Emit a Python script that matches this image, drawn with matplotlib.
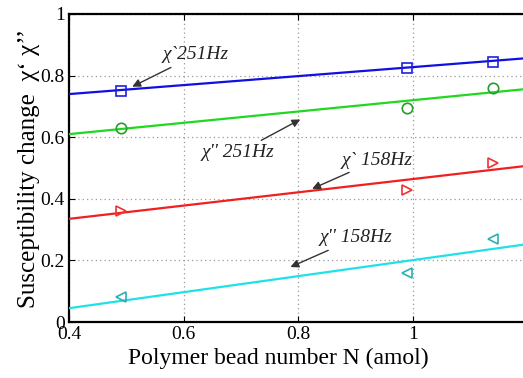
import matplotlib
matplotlib.use("Agg")
import matplotlib.pyplot as plt

# Dados ###############################################################################

n_beads = [0.49, 0.99, 1.14]
chi1_251 = [0.75, 0.825, 0.845]
chi2_251 = [0.63, 0.695, 0.76]
chi1_158 = [0.36, 0.43, 0.515]
chi2_158 = [0.08, 0.16, 0.27]

# retas ajustadas
x_fit = [0.4, 1.25]
fit_chi1_251 = [0.74, 0.864]
fit_chi2_251 = [0.61, 0.766]
fit_chi1_158 = [0.335, 0.518]
fit_chi2_158 = [0.045, 0.266]

x_ticks = [0.4, 0.6, 0.8, 1.0]
x_tick_labels = ["0.4", "0.6", "0.8", "1"]
y_ticks = [0, 0.2, 0.4, 0.6, 0.8, 1.0]
y_tick_labels = ["0", "0.2", "0.4", "0.6", "0.8", "1"]

# Figura ###############################################################################

plt.rcParams['font.family'] = ['Liberation Serif', 'DejaVu Serif']
fig = plt.figure(figsize=(5.23, 3.78), dpi=100)
# o eixo passa da borda direita, como na figura original (cortada)
ax = fig.add_axes([0.132, 0.148, 0.931, 0.815])

series = [
    (fit_chi1_251, chi1_251, '#1010e0', '#2020e0', 's'),
    (fit_chi2_251, chi2_251, '#20d820', '#2a9a2a', 'o'),
    (fit_chi1_158, chi1_158, '#f02020', '#f03030', '>'),
    (fit_chi2_158, chi2_158, '#20e0e8', '#2ab0b0', '<'),
]
for fit, pts, cor_linha, cor_marc, marc in series:
    ax.plot(x_fit, fit, color=cor_linha, lw=1.6, zorder=3)
    ax.plot(n_beads, pts, linestyle='none', marker=marc, ms=7.5, mfc='none',
            mec=cor_marc, mew=1.2, zorder=4)

ax.set_xlim(0.4, 1.25)
ax.set_ylim(0, 1)
ax.set_xticks(x_ticks)
ax.set_xticklabels(x_tick_labels)
ax.set_yticks(y_ticks)
ax.set_yticklabels(y_tick_labels)
ax.tick_params(direction='in', labelsize=14, top=True, right=True, length=4, pad=3)
ax.grid(True, linestyle=(0, (1, 2.5)), color='#999999', lw=0.9)
for s in ax.spines.values():
    s.set_linewidth(1.6)

ax.set_xlabel("Polymer bead number N (amol)", fontsize=17)
ax.xaxis.set_label_coords(0.429, -0.085)
ax.set_ylabel("Susceptibility change  χ‘ χ’’", fontsize=18, labelpad=0)

# Anotacoes ###############################################################################

seta = dict(arrowstyle='-|>', color='#333333', lw=1, mutation_scale=12)
txt = dict(fontsize=14, style='italic', color='#222222', va='center')
ax.annotate("χ`251Hz", xy=(0.506, 0.760), xytext=(0.564, 0.867), arrowprops=seta, ha='left', **txt)
ax.annotate("χ'' 251Hz", xy=(0.808, 0.662), xytext=(0.758, 0.549), arrowprops=seta, ha='right', **txt)
ax.annotate("χ` 158Hz", xy=(0.820, 0.429), xytext=(0.876, 0.526), arrowprops=seta, ha='left', **txt)
ax.annotate("χ'' 158Hz", xy=(0.782, 0.175), xytext=(0.838, 0.273), arrowprops=seta, ha='left', **txt)

fig.savefig("out.png", dpi=100)
